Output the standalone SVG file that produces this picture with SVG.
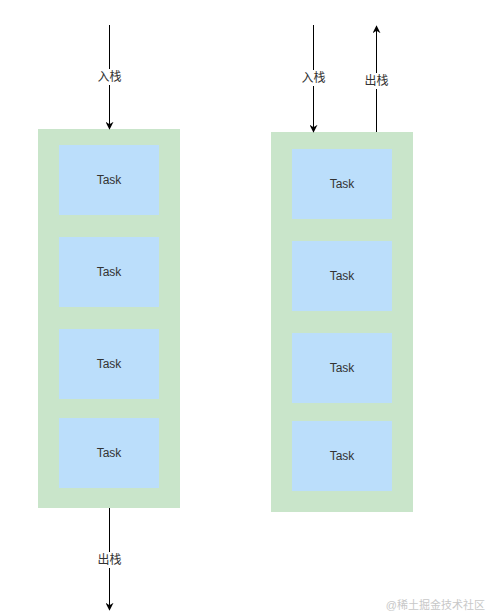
<svg xmlns="http://www.w3.org/2000/svg" width="489" height="613" viewBox="0 0 489 613">
<defs>
<style>
.stack{fill:#c9e5ca;}
.task{fill:#bbdefb;}
.t{font-family:"Liberation Sans","Noto Sans CJK SC",sans-serif;font-size:12px;fill:#333;text-anchor:middle;dominant-baseline:central;}
.line{stroke:#000;stroke-width:1;fill:none;}
.lbl{fill:#fff;}
.wm{font-family:"Liberation Sans","Noto Sans CJK SC",sans-serif;font-size:11px;fill:#c8c8c8;text-anchor:end;}
</style>
<marker id="arr" viewBox="0 0 10 10" refX="9" refY="5" markerWidth="8" markerHeight="8" markerUnits="userSpaceOnUse" orient="auto">
<path d="M0,0 L10,5 L0,10 L3,5 Z" fill="#000"/>
</marker>
</defs>
<rect width="489" height="613" fill="#fff"/>
<g id="stackLeft">
<rect class="stack" x="38" y="129" width="142" height="379"/>
</g>
<g id="taskL1"><rect class="task" x="59" y="145" width="100" height="70"/><text class="t" x="109" y="180">Task</text></g>
<g id="taskL2"><rect class="task" x="59" y="237" width="100" height="70"/><text class="t" x="109" y="272">Task</text></g>
<g id="taskL3"><rect class="task" x="59" y="329" width="100" height="70"/><text class="t" x="109" y="364">Task</text></g>
<g id="taskL4"><rect class="task" x="59" y="418" width="100" height="70"/><text class="t" x="109" y="453">Task</text></g>
<g id="stackRight">
<rect class="stack" x="271" y="132" width="142" height="380"/>
</g>
<g id="taskR1"><rect class="task" x="292" y="149" width="100" height="70"/><text class="t" x="342" y="184">Task</text></g>
<g id="taskR2"><rect class="task" x="292" y="241" width="100" height="70"/><text class="t" x="342" y="276">Task</text></g>
<g id="taskR3"><rect class="task" x="292" y="333" width="100" height="70"/><text class="t" x="342" y="368">Task</text></g>
<g id="taskR4"><rect class="task" x="292" y="421" width="100" height="70"/><text class="t" x="342" y="456">Task</text></g>
<g id="connectors">
<line class="line" x1="109.5" y1="25" x2="109.5" y2="129" marker-end="url(#arr)"/>
<rect class="lbl" x="95" y="69" width="29" height="16"/>
<text class="t" x="109.5" y="77">入栈</text>
<line class="line" x1="109.5" y1="508" x2="109.5" y2="610" marker-end="url(#arr)"/>
<rect class="lbl" x="95" y="552" width="29" height="16"/>
<text class="t" x="109.5" y="560">出栈</text>
<line class="line" x1="313.5" y1="25" x2="313.5" y2="132" marker-end="url(#arr)"/>
<rect class="lbl" x="299" y="70" width="29" height="16"/>
<text class="t" x="313.5" y="78">入栈</text>
<line class="line" x1="376.5" y1="132" x2="376.5" y2="26" marker-end="url(#arr)"/>
<rect class="lbl" x="362" y="73" width="29" height="16"/>
<text class="t" x="376.5" y="81">出栈</text>
</g>
<text class="wm" x="485" y="609">@稀土掘金技术社区</text>
</svg>
